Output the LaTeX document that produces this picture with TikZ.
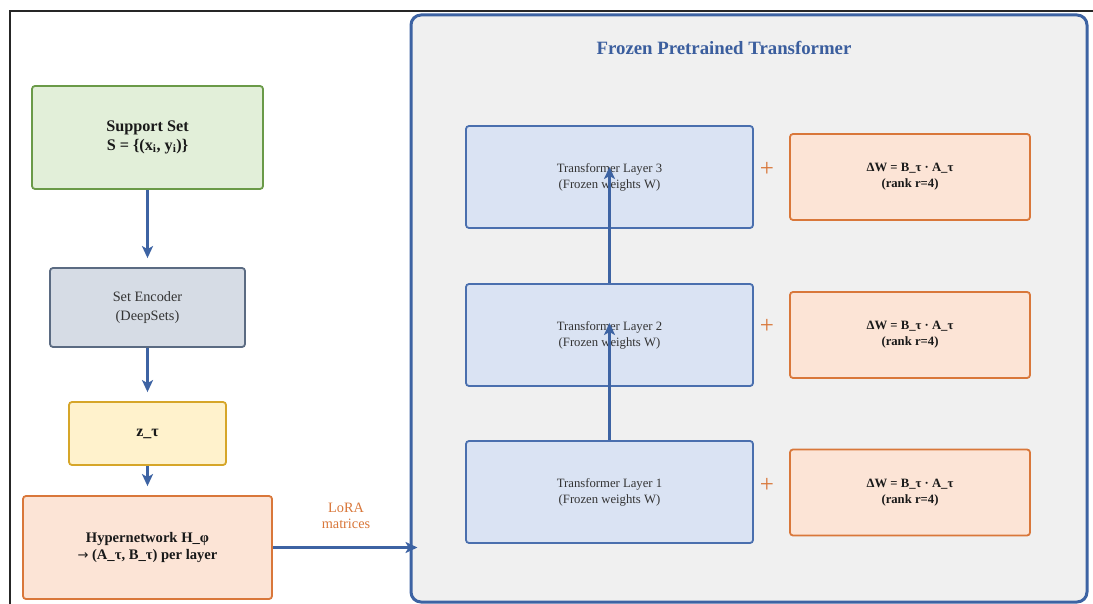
\documentclass[tikz,border=0pt]{standalone}
\usepackage{fontspec}
\setmainfont{Liberation Serif}
\newfontfamily\arrowfont{DejaVu Sans}
\usetikzlibrary{arrows.meta,calc}
\definecolor{cblue}{HTML}{3D63A3}
\definecolor{ctitle}{HTML}{3B5E9E}
\definecolor{corange}{HTML}{D9773A}
\definecolor{cpeach}{HTML}{FCE4D6}
\definecolor{cgreenf}{HTML}{E2EFD9}
\definecolor{cgreend}{HTML}{6A9A48}
\definecolor{cgrayf}{HTML}{D6DCE5}
\definecolor{cgrayd}{HTML}{5B6B82}
\definecolor{cyelf}{HTML}{FFF2CC}
\definecolor{cyeld}{HTML}{D6A629}
\definecolor{clayf}{HTML}{DAE3F3}
\definecolor{clayd}{HTML}{4A6FAE}
\definecolor{ccont}{HTML}{F0F0F0}
\definecolor{ctext}{HTML}{333333}
\begin{document}
\begin{tikzpicture}[x=1pt,y=-1pt,
  boxbase/.style={draw, rounded corners=3pt, line width=1.8pt, inner sep=0pt, align=center},
  normtxt/.style={font=\fontsize{12.7}{16}\selectfont, text=ctext},
  flow/.style={draw=cblue, line width=2.4pt, -{Stealth[length=12pt,width=11pt,inset=3pt]}},
  plussign/.style={text=corange, font=\fontsize{25}{25}\selectfont, inner sep=0pt},
  layerbox/.style={boxbase, fill=clayf, draw=clayd, minimum width=287pt, minimum height=102pt, normtxt},
  deltabox/.style={boxbase, fill=cpeach, draw=corange, minimum width=240pt, minimum height=86pt, font=\bfseries\fontsize{12.7}{16}\selectfont, text=black!90}
]
\useasboundingbox (0,0) rectangle (1093,604);
\fill[white] (0,0) rectangle (1093,604);
% outer frame
\draw[line width=1.8pt, black!85] (10,604) -- (10,11) -- (1093,11);

% container
\node[draw=cblue, fill=ccont, line width=3pt, rounded corners=10pt, minimum width=676pt, minimum height=587pt, inner sep=0pt] (cont) at (749,308.5) {};
\node[text=ctitle, font=\bfseries\fontsize{18.8}{22}\selectfont] (title) at (724,48) {Frozen Pretrained Transformer};

% left column
\node[boxbase, fill=cgreenf, draw=cgreend, minimum width=231pt, minimum height=103pt, font=\bfseries\fontsize{16.2}{18.5}\selectfont, text=black!90] (sup) at (147.5,137.5) {Support Set\\S = \{(x\textsubscript{i}, y\textsubscript{i})\}};
\node[boxbase, fill=cgrayf, draw=cgrayd, minimum width=195pt, minimum height=79pt, font=\fontsize{14.3}{19}\selectfont, text=ctext] (enc) at (147.5,307.5) {Set Encoder\\(DeepSets)};
\node[boxbase, fill=cyelf, draw=cyeld, minimum width=157pt, minimum height=63pt, font=\bfseries\fontsize{16}{18}\selectfont, text=black!90] (z) at (147.5,433.5) {z\_τ};
\node[boxbase, fill=cpeach, draw=corange, minimum width=249pt, minimum height=103pt, font=\bfseries\fontsize{14.6}{17}\selectfont, text=black!90] (hyp) at (147.5,547.5) {Hypernetwork H\_φ\\{\arrowfont\mdseries\fontsize{13}{17}\selectfont →} (A\_τ, B\_τ) per layer};

\draw[flow, shorten >=9pt] (sup.south) -- (enc.north);
\draw[flow, shorten >=9pt] (enc.south) -- (z.north);
\draw[flow, shorten >=9pt] (z.south) -- (hyp.north);

\draw[flow, shorten >=-8pt] (hyp.east) -- (hyp.east -| cont.west);
\node[text=corange, font=\fontsize{14.3}{15.5}\selectfont, align=center] (lora) at (346,516) {LoRA\\matrices};

% transformer layers
\node[layerbox] (L3) at (609.5,177) {Transformer Layer 3\\(Frozen weights W)};
\node[layerbox] (L2) at (609.5,335) {Transformer Layer 2\\(Frozen weights W)};
\node[layerbox] (L1) at (609.5,492) {Transformer Layer 1\\(Frozen weights W)};

\node[deltabox] (D3) at (910,177) {ΔW = B\_τ · A\_τ\\(rank r=4)};
\node[deltabox] (D2) at (910,335) {ΔW = B\_τ · A\_τ\\(rank r=4)};
\node[deltabox] (D1) at (910,492.5) {ΔW = B\_τ · A\_τ\\(rank r=4)};

\node[plussign] (p3) at (767,169) {+};
\node[plussign] (p2) at (767,326) {+};
\node[plussign] (p1) at (767,485) {+};

\coordinate (t2) at ($(L2.center)+(0,-12)$);
\coordinate (t3) at ($(L3.center)+(0,-10)$);
\draw[flow] (L1.north) -- (t2);
\draw[flow] (L2.north) -- (t3);
\end{tikzpicture}
\end{document}
